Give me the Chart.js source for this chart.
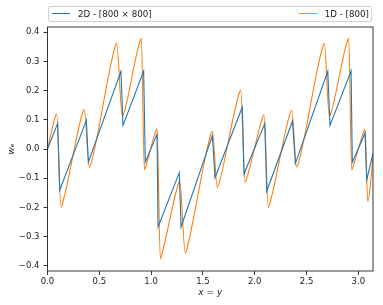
<!DOCTYPE html>
<html>
<head>
<meta charset="utf-8">
<script src="https://cdn.jsdelivr.net/npm/chart.js"></script>
<style>
  html, body { margin: 0; padding: 0; background: #fff; }
  #wrap { position: relative; width: 383px; height: 305px; }
  #legend {
    position: absolute; left: 48px; top: 6px; width: 324px; height: 16px;
    border: 1px solid #d0d0d0; border-radius: 2px; box-sizing: border-box;
    font-family: "DejaVu Sans", sans-serif; font-size: 8.7px; color: #222;
  }
  .item { position: absolute; top: 0; height: 15px; line-height: 15px; white-space: nowrap; }
  .swatch { display: inline-block; width: 18px; height: 0; border-top: 1px solid; vertical-align: middle; margin-right: 8px; position: relative; top: -1px; }
</style>
</head>
<body>
<div id="wrap">
  <canvas id="chart" width="383" height="305"></canvas>
  <div id="legend">
    <div class="item" style="left:3px"><span class="swatch" style="border-color:#1f77b4"></span><span id="lab0"></span></div>
    <div class="item" style="right:2px"><span class="swatch" style="border-color:#ff7f0e"></span><span id="lab1"></span></div>
  </div>
</div>
<script>
// series labels
const seriesLabels = ["2D - [800 \u00d7 800]", "1D - [800]"];

// blue: 2D run
const blueX = [0, 0.098, 0.118, 0.375, 0.394, 0.709, 0.729, 0.928, 0.944, 1.057, 1.067, 1.272, 1.289,
  1.591, 1.617, 1.880, 1.897, 2.097, 2.116, 2.365, 2.392, 2.705, 2.727, 2.930, 2.942, 3.065, 3.081, 3.1416];
const blueY = [0.0, 0.088, -0.141, 0.098, -0.045, 0.266, 0.081, 0.267, -0.044, 0.050, -0.267, -0.081, -0.267,
  0.045, -0.098, 0.144, -0.085, 0.087, -0.144, 0.096, -0.050, 0.266, 0.081, 0.268, -0.045, 0.054, -0.106, -0.015];

// orange: 1D run
const orangeX = [0, 0.07, 0.089, 0.130, 0.15,
  0.335, 0.355, 0.404, 0.424,
  0.648, 0.668, 0.722, 0.742,
  0.886, 0.906, 0.935, 0.952,
  1.040, 1.058, 1.089, 1.11,
  1.258, 1.276, 1.330, 1.35,
  1.572, 1.591, 1.639, 1.66,
  1.845, 1.865, 1.906, 1.926,
  2.070, 2.090, 2.131, 2.151,
  2.337, 2.357, 2.405, 2.425,
  2.652, 2.672, 2.720, 2.740,
  2.887, 2.907, 2.936, 2.953,
  3.047, 3.065, 3.091, 3.1416];
const orangeY = [0.0, 0.105, 0.119, -0.199, -0.180,
  0.120, 0.135, -0.062, -0.045,
  0.345, 0.361, 0.112, 0.128,
  0.362, 0.378, -0.071, -0.055,
  0.056, 0.069, -0.376, -0.352,
  -0.125, -0.111, -0.358, -0.336,
  0.046, 0.061, -0.132, -0.112,
  0.185, 0.201, -0.115, -0.097,
  0.101, 0.117, -0.199, -0.180,
  0.117, 0.132, -0.062, -0.045,
  0.345, 0.361, 0.112, 0.128,
  0.362, 0.378, -0.071, -0.055,
  0.054, 0.068, -0.180, -0.030];

const xTicks = [0, 0.5, 1.0, 1.5, 2.0, 2.5, 3.0];
const yTicks = [-0.4, -0.3, -0.2, -0.1, 0.0, 0.1, 0.2, 0.3, 0.4];

document.getElementById("lab0").textContent = seriesLabels[0];
document.getElementById("lab1").textContent = seriesLabels[1];

const fmt = v => (v < -1e-9 ? "\u2212" + Math.abs(v).toFixed(1) : Math.abs(v).toFixed(1));

// draws the four-sided box round the plot
const frame = {
  id: "frame",
  afterDraw(chart) {
    const a = chart.chartArea, ctx = chart.ctx;
    ctx.save();
    ctx.strokeStyle = "#222";
    ctx.lineWidth = 0.9;
    ctx.strokeRect(a.left, a.top, a.right - a.left, a.bottom - a.top);
    ctx.restore();
  }
};

Chart.defaults.font.family = "DejaVu Sans";
Chart.defaults.font.size = 8.5;
Chart.defaults.color = "#222";

new Chart(document.getElementById("chart"), {
  type: "line",
  data: {
    datasets: [
      {
        label: seriesLabels[0],
        data: blueX.map((x, i) => ({ x: x, y: blueY[i] })),
        borderColor: "#1f77b4",
        borderWidth: 1.1,
        pointRadius: 0,
        tension: 0
      },
      {
        label: seriesLabels[1],
        data: orangeX.map((x, i) => ({ x: x, y: orangeY[i] })),
        borderColor: "#ff7f0e",
        borderWidth: 1.1,
        pointRadius: 0,
        cubicInterpolationMode: "monotone"
      }
    ]
  },
  options: {
    responsive: false,
    animation: false,
    layout: { padding: { left: 0, right: 10, top: 27, bottom: 0 } },
    plugins: { legend: { display: false }, tooltip: { enabled: false } },
    scales: {
      x: {
        type: "linear",
        min: 0,
        max: Math.PI,
        afterBuildTicks: s => { s.ticks = xTicks.map(v => ({ value: v })); },
        afterFit: s => { s.height = 34; },
        ticks: { callback: fmt, padding: 2, maxRotation: 0, autoSkip: false },
        grid: { drawOnChartArea: false, drawTicks: true, tickLength: 4, color: "#222", lineWidth: 0.9 },
        border: { display: false },
        title: { display: true, text: "x = y", font: { style: "italic", size: 9 }, padding: { top: 0, bottom: 7 } }
      },
      y: {
        min: -0.418,
        max: 0.418,
        afterBuildTicks: s => { s.ticks = yTicks.map(v => ({ value: v })); },
        afterFit: s => { s.width = 47.5; },
        ticks: { callback: fmt, padding: 4, autoSkip: false },
        grid: { drawOnChartArea: false, drawTicks: true, tickLength: 4, color: "#222", lineWidth: 0.9 },
        border: { display: false },
        title: { display: true, text: "w\u2091", font: { style: "italic", size: 9 }, padding: { top: 6, bottom: 0 } }
      }
    }
  },
  plugins: [frame]
});
</script>
</body>
</html>
